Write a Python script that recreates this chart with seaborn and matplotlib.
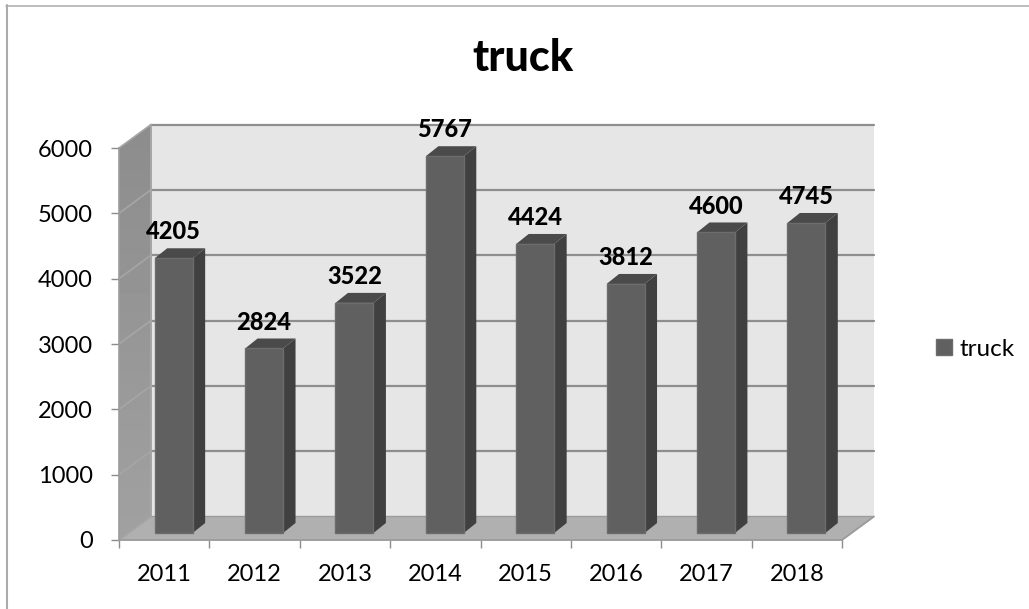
import numpy as np
import pandas as pd
import matplotlib
matplotlib.use("Agg")
import matplotlib.pyplot as plt
from matplotlib.patches import Polygon, Patch
from matplotlib.lines import Line2D
from matplotlib.ticker import FixedLocator
import seaborn as sns

years = ["2011", "2012", "2013", "2014", "2015", "2016", "2017", "2018"]
trucks = [4205, 2824, 3522, 5767, 4424, 3812, 4600, 4745]
y_ticks = [0, 1000, 2000, 3000, 4000, 5000, 6000]
series_name = "truck"

W, H = 1029, 609
LEFT, RIGHT, TOP, BOTTOM = 119, 842, 148, 540

sns.set_theme(style="white")
plt.rcParams["font.family"] = ["Lato", "DejaVu Sans"]

fig = plt.figure(figsize=(W / 100, H / 100), dpi=100, facecolor="white")
ax = fig.add_axes([LEFT / W, 1 - BOTTOM / H, (RIGHT - LEFT) / W, (BOTTOM - TOP) / H])
ax.set_facecolor("none")


def ox(px):
    """Horizontal pixel distance expressed in category units."""
    return px * 8 / (RIGHT - LEFT)


def oy(px):
    """Vertical pixel distance expressed in value units."""
    return px * 6000 / (BOTTOM - TOP)


x0, x1, y0, y1 = -0.5, 7.5, 0, 6000
wall_dx, wall_dy = ox(32), oy(23.5)

# Back wall, floor
ax.add_patch(Polygon([(x0 + wall_dx, y0 + wall_dy), (x1 + wall_dx, y0 + wall_dy),
                      (x1 + wall_dx, y1 + wall_dy), (x0 + wall_dx, y1 + wall_dy)],
                     fc="#e6e6e6", ec="none", zorder=1, clip_on=False))
ax.add_patch(Polygon([(x0, y0), (x1, y0), (x1 + wall_dx, y0 + wall_dy), (x0 + wall_dx, y0 + wall_dy)],
                     fc="#b0b0b0", ec="#9c9c9c", lw=1.0, zorder=1.2, clip_on=False))

# Side wall with a soft vertical shading
side = Polygon([(x0, y0), (x0 + wall_dx, y0 + wall_dy), (x0 + wall_dx, y1 + wall_dy), (x0, y1)],
               fc="none", ec="none", transform=ax.transData, clip_on=False)
ax.add_patch(side)
shade = ax.imshow(np.linspace(0.63, 0.55, 64).reshape(-1, 1), cmap="gray", vmin=0, vmax=1,
                  extent=(x0, x0 + wall_dx, y0, y1 + wall_dy), origin="lower",
                  aspect="auto", zorder=1.1)
shade.set_clip_box(fig.bbox)
shade.set_clip_path(side)

# Gridlines across the back wall and down the side wall
for v in y_ticks:
    ax.add_line(Line2D([x0, x0 + wall_dx], [v, v + wall_dy], color="#a6a6a6", lw=1.2,
                       zorder=1.3, clip_on=False))
    if v > 0:
        ax.add_line(Line2D([x0 + wall_dx, x1 + wall_dx], [v + wall_dy, v + wall_dy],
                           color="#8e8e8e", lw=1.6, zorder=1.3, clip_on=False))
ax.add_line(Line2D([x0 + wall_dx] * 2, [y0 + wall_dy, y1 + wall_dy], color="#a6a6a6", lw=1.4,
                   zorder=1.3, clip_on=False))
ax.add_line(Line2D([x1, x1 + wall_dx], [y0, y0 + wall_dy], color="#9c9c9c", lw=1.2,
                   zorder=1.3, clip_on=False))

# Columns
df = pd.DataFrame({"year": years, "value": trucks})
sns.barplot(data=df, x="year", y="value", color="#606060", saturation=1, width=0.42,
            label=series_name, ax=ax, zorder=3, legend=False)
ax.set_xlim(x0, x1)
ax.set_ylim(y0, y1)

bar_dx, bar_dy = ox(9.5), oy(7)
side_dx, side_dy = ox(12.5), oy(10)
for bar, value in zip(ax.patches[-len(trucks):], trucks):
    bar.set_x(bar.get_x() + bar_dx)
    bar.set_y(bar_dy)
    bar.set_edgecolor("#6c6c6c")
    bar.set_linewidth(1.0)
    bar.set_clip_on(False)
    l, r = bar.get_x(), bar.get_x() + bar.get_width()
    b, t = bar.get_y(), bar.get_y() + bar.get_height()
    ax.add_patch(Polygon([(r, b), (r + side_dx, b + side_dy), (r + side_dx, t + side_dy), (r, t)],
                         fc="#404040", ec="none", zorder=2.9, clip_on=False))
    ax.add_patch(Polygon([(l, t), (r, t), (r + side_dx, t + side_dy), (l + side_dx, t + side_dy)],
                         fc="#4a4a4a", ec="none", zorder=2.9, clip_on=False))
    ax.annotate(f"{value}", (l + bar.get_width() / 2, t), xytext=(0, 19),
                textcoords="offset points", ha="center", va="center",
                fontsize=17, fontweight="black", color="black", zorder=5, annotation_clip=False)

# Axes furniture
ax.set_xlabel("")
ax.set_ylabel("")
for name in ("top", "right"):
    ax.spines[name].set_visible(False)
for name in ("left", "bottom"):
    ax.spines[name].set_visible(True)
    ax.spines[name].set_color("#9c9c9c")
    ax.spines[name].set_linewidth(1.2)
    ax.spines[name].set_zorder(1.4)
ax.set_yticks(y_ticks)
ax.xaxis.set_minor_locator(FixedLocator(np.arange(x0, x1 + 1)))
ax.tick_params(axis="x", which="major", length=0, pad=17.5, labelsize=17, labelcolor="black")
ax.tick_params(axis="x", which="minor", length=6, width=1.0, color="#8c8c8c", bottom=True)
ax.tick_params(axis="y", which="major", length=6, width=1.0, color="#8c8c8c", left=True,
               pad=13, labelsize=17, labelcolor="black")

fig.text(523 / W, 1 - 58 / H, series_name, ha="center", va="center",
         fontsize=31, fontweight="black", color="black")

fig.legend(handles=[Patch(fc="#606060", ec="#6c6c6c", label=series_name)],
           loc="center left", bbox_to_anchor=(936 / W, 1 - 349 / H), frameon=False,
           fontsize=17.5, handlelength=0.66, handleheight=0.66, handletextpad=0.3,
           borderpad=0, borderaxespad=0, labelcolor="black")

# Chart-area frame along the top and left edges
fig.add_artist(Line2D([6 / W, 1], [1 - 5.5 / H] * 2, color="#ababab", lw=1.1, transform=fig.transFigure))
fig.add_artist(Line2D([6.5 / W] * 2, [0, 1 - 5 / H], color="#ababab", lw=1.5, transform=fig.transFigure))

fig.savefig("out.png", dpi=100, facecolor="white")
